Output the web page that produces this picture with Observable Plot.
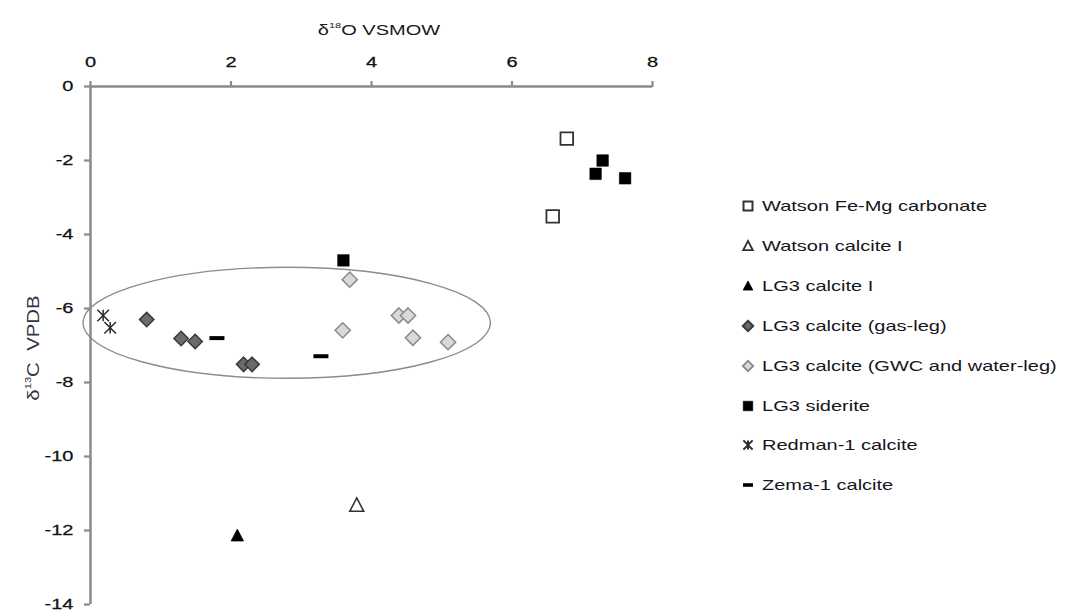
<!DOCTYPE html>
<html>
<head>
<meta charset="utf-8">
<script src="https://cdn.jsdelivr.net/npm/d3@7"></script>
<script src="https://cdn.jsdelivr.net/npm/@observablehq/plot@0.6"></script>
<style>
  html, body { margin: 0; padding: 0; background: #fff; }
  #wrap { position: relative; width: 1067px; height: 612px; overflow: hidden; font-family: "Liberation Sans", Arial, sans-serif; }
  #legend { position: absolute; left: 0; top: 0; }
  .item { position: absolute; height: 20px; display: flex; align-items: center; white-space: nowrap; }
  .item span { display: inline-block; font-size: 14.5px; color: #151520; transform: scaleX(1.38); transform-origin: left center; margin-left: 6px; }
</style>
</head>
<body>
<div id="wrap"><div id="legend"></div></div>
<script>
// ---- data ----
const xTicks = [0, 2, 4, 6, 8];
const yTicks = [0, -2, -4, -6, -8, -10, -12, -14];

const seriesNames = [
  "Watson Fe-Mg carbonate",
  "Watson calcite I",
  "LG3 calcite I",
  "LG3 calcite (gas-leg)",
  "LG3 calcite (GWC and water-leg)",
  "LG3 siderite",
  "Redman-1 calcite",
  "Zema-1 calcite"
];

const watsonFeMgX = [6.78, 6.58];
const watsonFeMgY = [-1.41, -3.51];

const watsonCalciteX = [3.79];
const watsonCalciteY = [-11.32];

const lg3CalciteIX = [2.09];
const lg3CalciteIY = [-12.14];

const gasLegX = [0.80, 1.29, 1.49, 2.18, 2.30];
const gasLegY = [-6.30, -6.81, -6.89, -7.51, -7.51];

const gwcX = [3.69, 3.59, 4.39, 4.52, 4.59, 5.09];
const gwcY = [-5.22, -6.59, -6.19, -6.19, -6.79, -6.91];

const sideriteX = [7.29, 7.19, 7.61, 3.60];
const sideriteY = [-2.00, -2.36, -2.48, -4.70];

const redmanX = [0.18, 0.28];
const redmanY = [-6.19, -6.52];

const zemaX = [1.80, 3.28];
const zemaY = [-6.80, -7.29];

// ellipse annotation: centre and radii in data units
const ellipseCenter = [2.80, -6.40];
const ellipseRadii = [2.90, 1.50];

// ---- custom symbols ----
const square = h => ({draw(c) { c.moveTo(-h, -h); c.lineTo(h, -h); c.lineTo(h, h); c.lineTo(-h, h); c.closePath(); }});
const triangle = h => ({draw(c) { c.moveTo(0, -h * 1.05); c.lineTo(h, h * 0.85); c.lineTo(-h, h * 0.85); c.closePath(); }});
const diamond = h => ({draw(c) { c.moveTo(0, -h); c.lineTo(h, 0); c.lineTo(0, h); c.lineTo(-h, 0); c.closePath(); }});
const star = h => ({draw(c) { c.moveTo(-h, -h); c.lineTo(h, h); c.moveTo(-h, h); c.lineTo(h, -h); c.moveTo(0, -h); c.lineTo(0, h); }});
const dash = (w, t) => ({draw(c) { c.moveTo(-w, -t); c.lineTo(w, -t); c.lineTo(w, t); c.lineTo(-w, t); c.closePath(); }});

const styles = [
  {sym: square(6.3), lsym: square(4.5), fill: "white", stroke: "#333", strokeWidth: 1.8, lw: 2},
  {sym: triangle(7), lsym: triangle(4.8), fill: "white", stroke: "#333", strokeWidth: 1.6, lw: 1.8},
  {sym: triangle(6.2), lsym: triangle(4.8), fill: "black", stroke: "black", strokeWidth: 0.8, lw: 0.8},
  {sym: diamond(7.2), lsym: diamond(5.2), fill: "#6b6b6b", stroke: "#3a3a3a", strokeWidth: 1.5, lw: 2},
  {sym: diamond(7.6), lsym: diamond(5.2), fill: "#d9d9d9", stroke: "#8a8a8a", strokeWidth: 1.5, lw: 1.8},
  {sym: square(5.8), lsym: square(4.8), fill: "black", stroke: "black", strokeWidth: 0.5, lw: 0.5},
  {sym: star(5.8), lsym: star(4.6), fill: "none", stroke: "#2a2a2a", strokeWidth: 1.5, lw: 2},
  {sym: dash(7.5, 2), lsym: dash(5, 1.8), fill: "black", stroke: "none", strokeWidth: 0, lw: 0}
];

const seriesData = [
  [watsonFeMgX, watsonFeMgY],
  [watsonCalciteX, watsonCalciteY],
  [lg3CalciteIX, lg3CalciteIY],
  [gasLegX, gasLegY],
  [gwcX, gwcY],
  [sideriteX, sideriteY],
  [redmanX, redmanY],
  [zemaX, zemaY]
];

const pts = (xs, ys) => xs.map((x, i) => ({x, y: ys[i]}));

const dotMarks = seriesData.map(([xs, ys], k) => Plot.dot(pts(xs, ys), {
  x: "x", y: "y", r: 4,
  symbol: styles[k].sym,
  fill: styles[k].fill,
  stroke: styles[k].stroke,
  strokeWidth: styles[k].strokeWidth
}));

const plot = Plot.plot({
  width: 1067,
  height: 612,
  marginLeft: 90,
  marginRight: 415,
  marginTop: 86,
  marginBottom: 8,
  x: {domain: [0, 8], ticks: xTicks, axis: "top", tickSize: 6, tickPadding: 14, label: null, tickFormat: d => String(d)},
  y: {domain: [-14, 0], ticks: yTicks, tickSize: 6, tickPadding: 11, label: null, tickFormat: d => String(d)},
  style: {fontFamily: "Liberation Sans, Arial, sans-serif", fontSize: "14.5px", color: "#111", background: "white", overflow: "visible"},
  marks: [
    Plot.ruleY([0], {stroke: "#8a8a8a", strokeWidth: 2.5}),
    Plot.ruleX([0], {stroke: "#8a8a8a", strokeWidth: 2.5}),
    ...dotMarks
  ]
});

const wrap = document.getElementById("wrap");
wrap.insertBefore(plot, wrap.firstChild);

const svgNS = "http://www.w3.org/2000/svg";

// axis styling: gray ticks, stretched labels
function stretch(t, sx, anchor) {
  const b = t.getBBox();
  const cx = anchor === "end" ? b.x + b.width : anchor === "start" ? b.x : b.x + b.width / 2;
  const cy = b.y + b.height / 2;
  const prev = t.getAttribute("transform") || "";
  t.setAttribute("transform", `${prev} translate(${cx},${cy}) scale(${sx},1) translate(${-cx},${-cy})`);
}
plot.querySelectorAll('g[aria-label^="x-axis"], g[aria-label^="y-axis"]').forEach(g => {
  g.querySelectorAll("line, path").forEach(l => { l.setAttribute("stroke", "#8a8a8a"); l.setAttribute("stroke-width", "2.2"); });
  g.querySelectorAll("text").forEach(t => {
    const a = getComputedStyle(t).textAnchor;
    t.setAttribute("stroke", "#111");
    t.setAttribute("stroke-width", "0.25");
    stretch(t, 1.38, a);
  });
});

// ellipse annotation through the plot's scales
const sx = plot.scale("x"), sy = plot.scale("y");
const cxp = sx.apply(ellipseCenter[0]), cyp = sy.apply(ellipseCenter[1]);
const rxp = Math.abs(sx.apply(ellipseCenter[0] + ellipseRadii[0]) - cxp);
const ryp = Math.abs(sy.apply(ellipseCenter[1] + ellipseRadii[1]) - cyp);
const ell = document.createElementNS(svgNS, "ellipse");
ell.setAttribute("cx", cxp); ell.setAttribute("cy", cyp);
ell.setAttribute("rx", rxp); ell.setAttribute("ry", ryp);
ell.setAttribute("fill", "none"); ell.setAttribute("stroke", "#8c8c8c"); ell.setAttribute("stroke-width", "1.4");
const firstDot = plot.querySelector('g[aria-label="dot"]');
plot.insertBefore(ell, firstDot);

// axis titles
function addTitle(parts, x, y, size, rotate, stretchX, color) {
  const t = document.createElementNS(svgNS, "text");
  t.setAttribute("font-size", size);
  t.setAttribute("fill", color);
  t.setAttribute("text-anchor", "middle");
  t.setAttribute("dominant-baseline", "central");
  t.setAttribute("font-family", "Liberation Sans, Arial, sans-serif");
  parts.forEach(([s, sup]) => {
    const ts = document.createElementNS(svgNS, "tspan");
    ts.textContent = s;
    if (sup) { ts.setAttribute("font-size", size * 0.55); ts.setAttribute("baseline-shift", "super"); }
    t.appendChild(ts);
  });
  t.setAttribute("transform", `translate(${x},${y}) rotate(${rotate}) scale(${stretchX},1)`);
  plot.appendChild(t);
}
addTitle([["δ"], ["18", true], ["O VSMOW"]], 379, 30, 14.5, 0, 1.38, "#1a1a22");
addTitle([["δ"], ["13", true], ["C  VPDB"]], 33, 348, 17, -90, 1.2, "#333344");

// legend
const legend = document.getElementById("legend");
seriesNames.forEach((name, k) => {
  const st = styles[k];
  const item = document.createElement("div");
  item.className = "item";
  item.style.left = "740px";
  item.style.top = (196 + k * 39.9) + "px";
  const p = d3.path(); st.lsym.draw(p);
  item.innerHTML = `<svg width="16" height="16" viewBox="-8 -8 16 16"><path d="${p.toString()}" fill="${st.fill}" stroke="${st.stroke}" stroke-width="${st.lw}"/></svg><span>${name}</span>`;
  legend.appendChild(item);
});
</script>
</body>
</html>
